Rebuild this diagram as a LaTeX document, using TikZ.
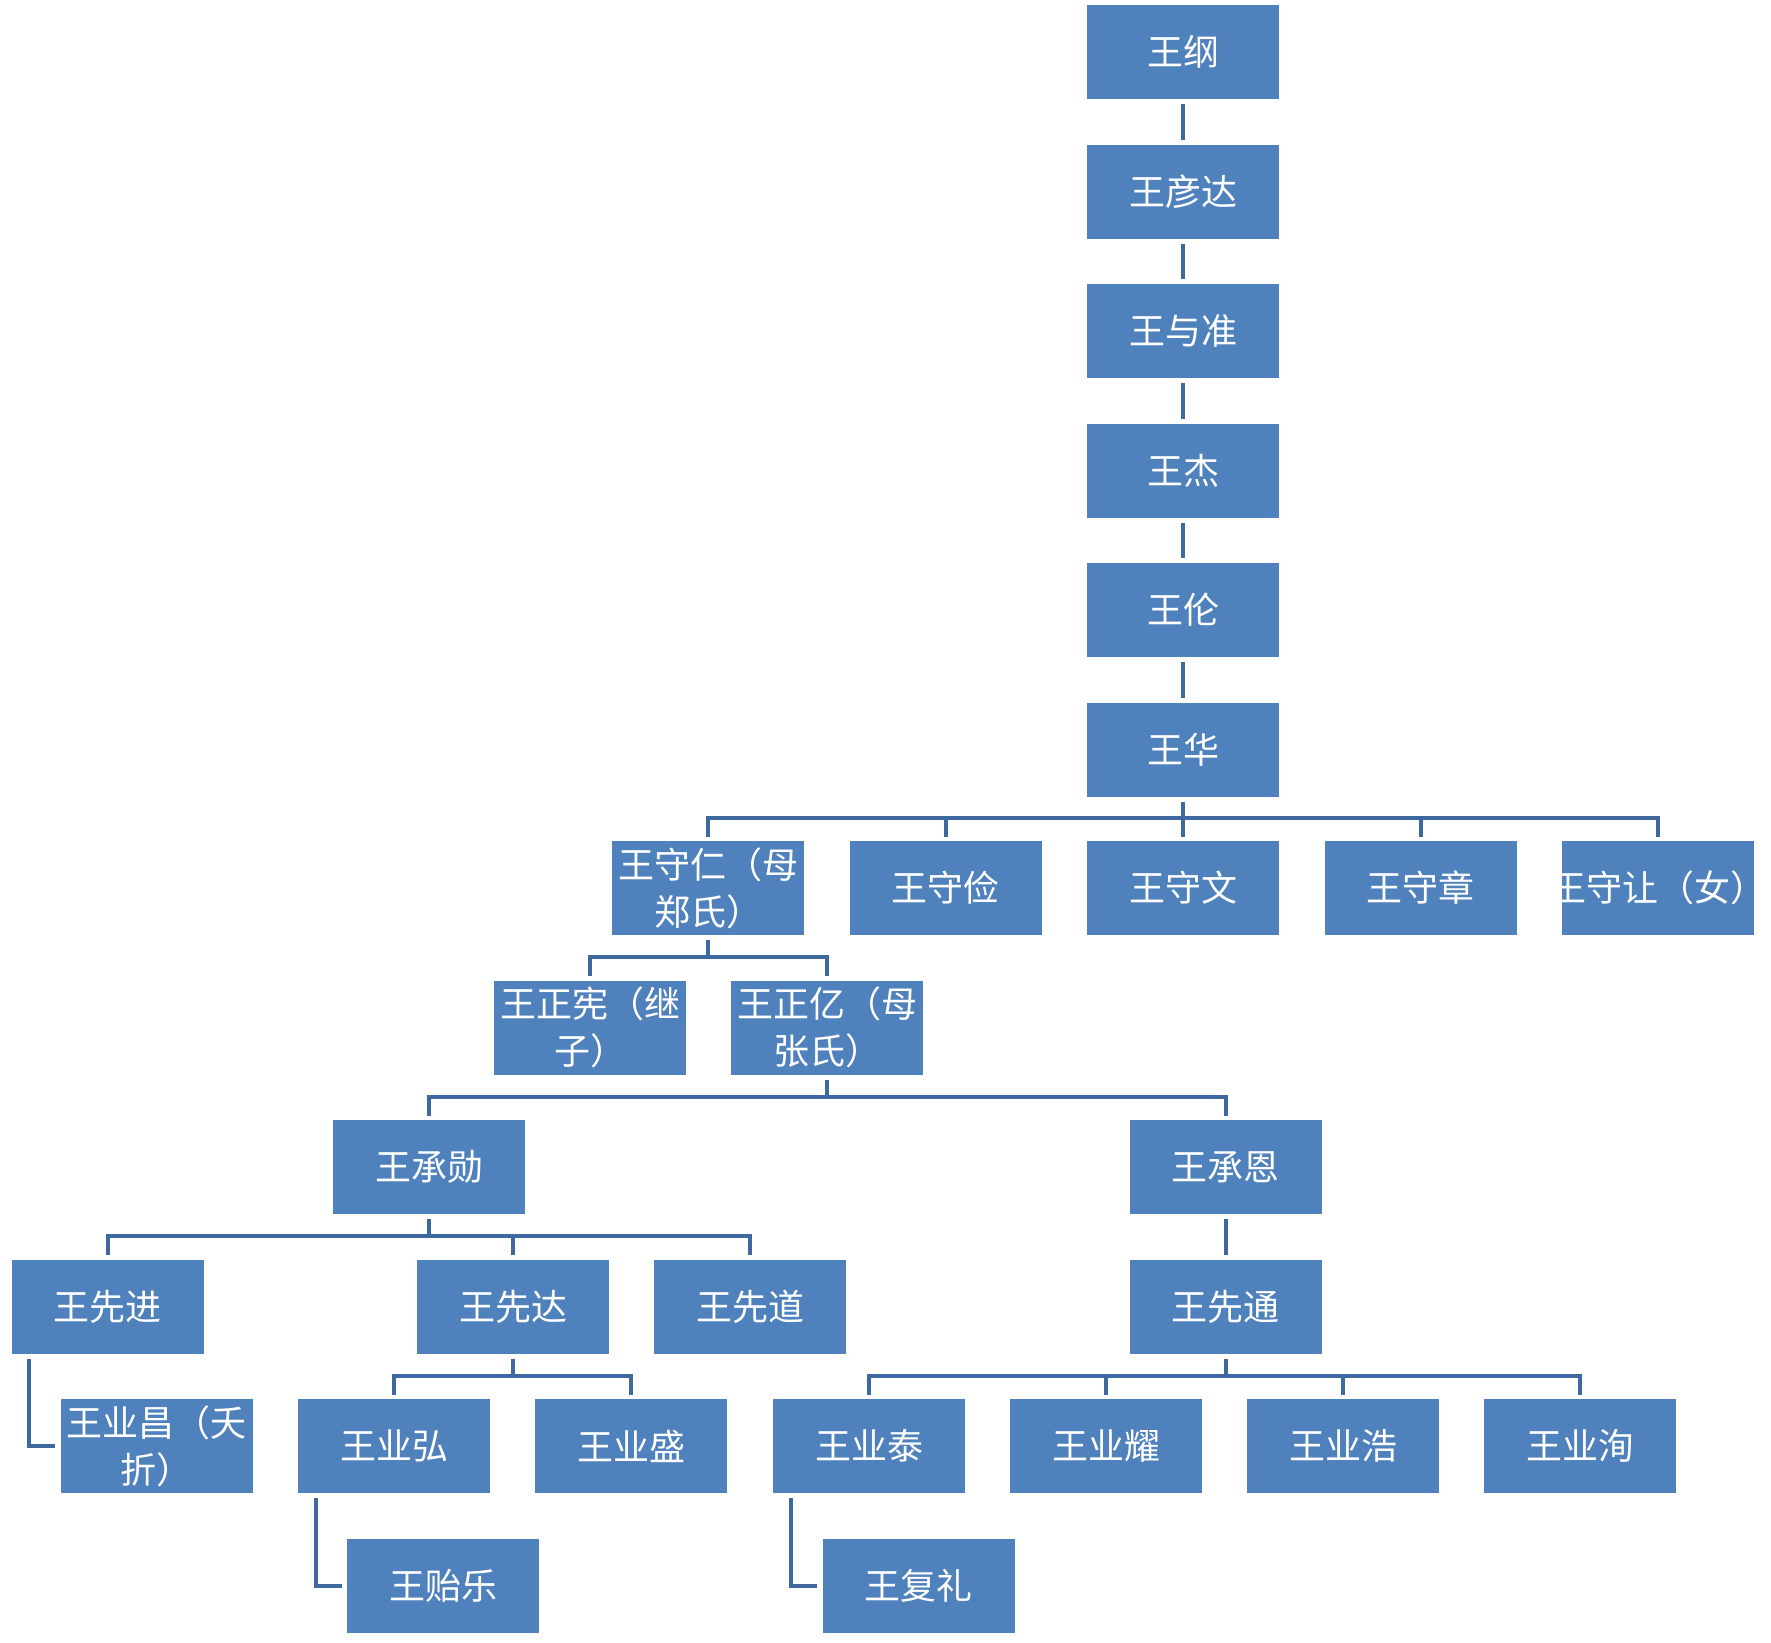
\documentclass[tikz,border=0pt]{standalone}
\usepackage{fontspec}
\newfontfamily\cjk{Noto Sans CJK SC}
\definecolor{boxblue}{RGB}{79,129,189}
\definecolor{lineblue}{RGB}{62,104,160}
\tikzset{
  box/.style={fill=boxblue, text=white, minimum width=192pt, minimum height=94pt,
    inner sep=0pt, align=center, font=\cjk\fontsize{36}{47}\selectfont},
  conn/.style={draw=lineblue, line width=4pt},
}
\begin{document}
\begin{tikzpicture}[x=1pt,y=-1pt]
\useasboundingbox (0,0) rectangle (1771,1642);
% main line
\node[box] (g1) at (1183,52) {王纲};
\node[box] (g2) at (1183,191.5) {王彦达};
\node[box] (g3) at (1183,331) {王与准};
\node[box] (g4) at (1183,470.5) {王杰};
\node[box] (g5) at (1183,610) {王伦};
\node[box] (g6) at (1183,749.5) {王华};
% row 7
\node[box] (s1) at (708,888) {王守仁（母\\郑氏）};
\node[box] (s2) at (945.5,888) {王守俭};
\node[box] (s3) at (1183,888) {王守文};
\node[box] (s4) at (1420.5,888) {王守章};
\node[box, path picture={\node[text=white, font=\cjk\fontsize{36}{47}\selectfont]
  at (path picture bounding box.center) {王守让（女）};}] (s5) at (1658,888) {};
% row 8
\node[box] (z1) at (590,1027.5) {王正宪（继\\子）};
\node[box] (z2) at (827,1027.5) {王正亿（母\\张氏）};
% row 9
\node[box] (c1) at (429,1167) {王承勋};
\node[box] (c2) at (1225.5,1167) {王承恩};
% row 10
\node[box] (x1) at (107.5,1306.5) {王先进};
\node[box] (x2) at (513,1306.5) {王先达};
\node[box] (x3) at (750,1306.5) {王先道};
\node[box] (x4) at (1225.5,1306.5) {王先通};
% row 11
\node[box] (y1) at (156.5,1446) {王业昌（夭\\折）};
\node[box] (y2) at (394,1446) {王业弘};
\node[box] (y3) at (631,1446) {王业盛};
\node[box] (y4) at (869,1446) {王业泰};
\node[box] (y5) at (1106,1446) {王业耀};
\node[box] (y6) at (1343,1446) {王业浩};
\node[box] (y7) at (1580,1446) {王业洵};
% row 12
\node[box] (w1) at (443,1585.5) {王贻乐};
\node[box] (w2) at (918.5,1585.5) {王复礼};

% single connectors
\foreach \a/\b in {g1/g2,g2/g3,g3/g4,g4/g5,g5/g6,c2/x4}
  \draw[conn] ([yshift=-5pt]\a.south) -- ([yshift=4.5pt]\b.north);

% bus: 王华 -> 守*
\coordinate (b7) at ([yshift=23pt]s1.north);
\draw[conn] ([yshift=-5pt]g6.south) -- (g6.south |- b7);
\draw[conn] ([yshift=4pt]s1.north) |- ([yshift=23pt]s5.north) -- ([yshift=4pt]s5.north);
\foreach \c in {s2,s3,s4}
  \draw[conn] ([yshift=4pt]\c.north) -- ([yshift=23pt]\c.north);

% bus: 王守仁 -> 正*
\coordinate (b8) at ([yshift=23pt]z1.north);
\draw[conn] ([yshift=-5pt]s1.south) -- (s1.south |- b8);
\draw[conn] ([yshift=4pt]z1.north) |- ([yshift=23pt]z2.north) -- ([yshift=4pt]z2.north);

% bus: 王正亿 -> 承*
\coordinate (b9) at ([yshift=23pt]c1.north);
\draw[conn] ([yshift=-5pt]z2.south) -- (z2.south |- b9);
\draw[conn] ([yshift=4pt]c1.north) |- ([yshift=23pt]c2.north) -- ([yshift=4pt]c2.north);

% bus: 王承勋 -> 先*
\coordinate (b10) at ([yshift=23pt]x1.north);
\draw[conn] ([yshift=-5pt]c1.south) -- (c1.south |- b10);
\draw[conn] ([yshift=4pt]x1.north) |- ([yshift=23pt]x3.north) -- ([yshift=4pt]x3.north);
\draw[conn] ([yshift=4pt]x2.north) -- ([yshift=23pt]x2.north);

% bus: 王先达 -> 业弘, 业盛
\coordinate (b11a) at ([yshift=23pt]y2.north);
\draw[conn] ([yshift=-5pt]x2.south) -- (x2.south |- b11a);
\draw[conn] ([yshift=4pt]y2.north) |- ([yshift=23pt]y3.north) -- ([yshift=4pt]y3.north);

% bus: 王先通 -> 业泰..业洵
\coordinate (b11b) at ([yshift=23pt]y4.north);
\draw[conn] ([yshift=-5pt]x4.south) -- (x4.south |- b11b);
\draw[conn] ([yshift=4pt]y4.north) |- ([yshift=23pt]y7.north) -- ([yshift=4pt]y7.north);
\foreach \c in {y5,y6}
  \draw[conn] ([yshift=4pt]\c.north) -- ([yshift=23pt]\c.north);

% elbows
\draw[conn] ([xshift=18pt,yshift=-5pt]x1.south west) |- ([xshift=-5pt]y1.west);
\draw[conn] ([xshift=18pt,yshift=-5pt]y2.south west) |- ([xshift=-5pt]w1.west);
\draw[conn] ([xshift=18pt,yshift=-5pt]y4.south west) |- ([xshift=-5pt]w2.west);
\end{tikzpicture}
\end{document}
